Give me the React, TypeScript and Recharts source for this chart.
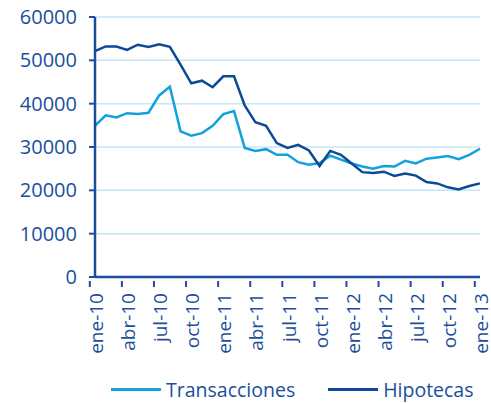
import React from "react";
import {
  CartesianGrid,
  Legend,
  Line,
  LineChart,
  XAxis,
  YAxis,
} from "recharts";

const months = [
  "ene-10", "feb-10", "mar-10", "abr-10", "may-10", "jun-10", "jul-10", "ago-10", "sep-10", "oct-10", "nov-10", "dic-10",
  "ene-11", "feb-11", "mar-11", "abr-11", "may-11", "jun-11", "jul-11", "ago-11", "sep-11", "oct-11", "nov-11", "dic-11",
  "ene-12", "feb-12", "mar-12", "abr-12", "may-12", "jun-12", "jul-12", "ago-12", "sep-12", "oct-12", "nov-12", "dic-12",
  "ene-13",
];

const transacciones = [
  34900, 37300, 36800, 37800, 37600, 37900, 41900, 43900, 33600, 32600, 33200, 34900,
  37600, 38300, 29800, 29100, 29500, 28200, 28200, 26500, 25900, 26300, 28000, 27100,
  26200, 25500, 25000, 25600, 25500, 26800, 26200, 27300, 27600, 27900, 27200, 28200,
  29600,
];

const hipotecas = [
  52100, 53200, 53200, 52400, 53600, 53100, 53700, 53100, 49000, 44700, 45300, 43800,
  46300, 46300, 39600, 35700, 34900, 30900, 29800, 30500, 29200, 25600, 29100, 28200,
  26200, 24200, 24000, 24300, 23300, 23900, 23400, 21900, 21600, 20700, 20200, 21000,
  21600,
];

const yTicks = [0, 10000, 20000, 30000, 40000, 50000, 60000];

const data = months.map((m, i) => ({
  month: m,
  Transacciones: transacciones[i],
  Hipotecas: hipotecas[i],
}));

const AXIS = "#1B4F9C";
const LIGHT = "#12A0DE";
const DARK = "#0C4A98";
const FONT = "'Open Sans', sans-serif";

const W = 491;
const H = 403;
const LEFT = 95;
const RIGHT = 11;
const BAND = (W - LEFT - RIGHT) / months.length;

// tick mark sits on the left edge of the category, label in its middle
const MonthTick = (props: any) => {
  const { x, y, payload } = props;
  return (
    <g>
      <line x1={x - BAND / 2} x2={x - BAND / 2} y1={y - 4} y2={y + 2} stroke={AXIS} strokeWidth={2} />
      <text
        x={x + 1}
        y={y + 8}
        transform={`rotate(-90, ${x + 1}, ${y + 8})`}
        textAnchor="end"
        dominantBaseline="central"
        fill={AXIS}
        fontSize={19}
        fontFamily={FONT}
      >
        {payload.value}
      </text>
    </g>
  );
};

const renderLegend = () => (
  <div style={{ display: "flex", gap: 33, paddingLeft: 111, marginTop: 13, fontFamily: FONT, fontSize: 19.5, color: AXIS, whiteSpace: "nowrap" }}>
    {[
      { name: "Transacciones", color: LIGHT },
      { name: "Hipotecas", color: DARK },
    ].map((it) => (
      <div key={it.name} style={{ display: "flex", alignItems: "center" }}>
        <div style={{ width: 50, height: 3, background: it.color, marginRight: 5 }} />
        <span>{it.name}</span>
      </div>
    ))}
  </div>
);

export default function App() {
  return (
    <div style={{ position: "absolute", left: 0, top: 0, background: "#fff" }}>
      <LineChart
        width={W}
        height={H}
        data={data}
        margin={{ top: 17, right: RIGHT, left: 0, bottom: 0 }}
      >
        <CartesianGrid vertical={false} stroke="#C5E6F6" strokeWidth={1.5} />
        <XAxis
          dataKey="month"
          interval={2}
          height={86}
          axisLine={{ stroke: AXIS, strokeWidth: 2.5 }}
          tickLine={false}
          tick={<MonthTick />}
        />
        <YAxis
          width={LEFT}
          domain={[0, 60000]}
          ticks={yTicks}
          axisLine={{ stroke: AXIS, strokeWidth: 2.5 }}
          tickLine={{ stroke: AXIS, strokeWidth: 2 }}
          tickSize={6}
          tickMargin={12}
          tick={{ fill: AXIS, fontSize: 20, fontFamily: FONT }}
        />
        <Legend verticalAlign="bottom" height={40} content={renderLegend} />
        <Line
          type="linear"
          dataKey="Transacciones"
          stroke={LIGHT}
          strokeWidth={2.5}
          dot={false}
          activeDot={false}
          isAnimationActive={false}
        />
        <Line
          type="linear"
          dataKey="Hipotecas"
          stroke={DARK}
          strokeWidth={2.5}
          dot={false}
          activeDot={false}
          isAnimationActive={false}
        />
      </LineChart>
    </div>
  );
}
